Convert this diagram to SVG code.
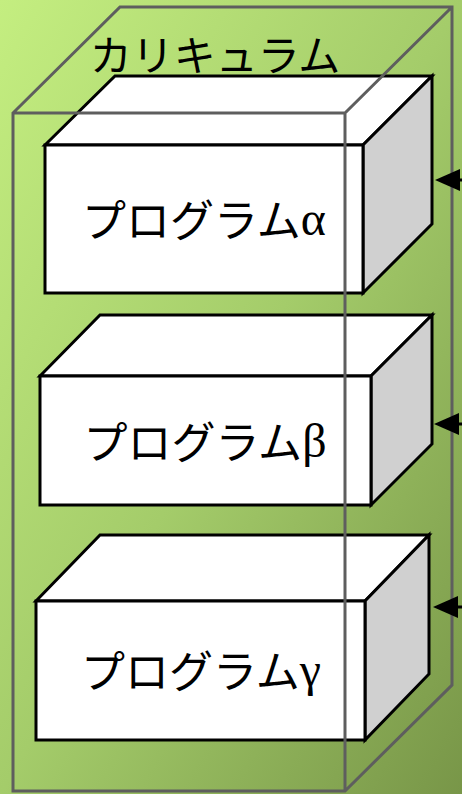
<svg xmlns="http://www.w3.org/2000/svg" width="462" height="794" viewBox="0 0 462 794">
<defs>
<linearGradient id="bg" x1="0" y1="0" x2="1" y2="1">
<stop offset="0" stop-color="#c4ee80"/>
<stop offset="0.5" stop-color="#a4cc6a"/>
<stop offset="1" stop-color="#789648"/>
</linearGradient>
<style>
.face{fill:#fff;stroke:#000;stroke-width:3;stroke-linejoin:miter}
.side{fill:#d0d0d0;stroke:#000;stroke-width:3;stroke-linejoin:miter}
.lbl{font-family:"Noto Sans CJK JP","Noto Sans",sans-serif;font-size:44px;font-weight:400;fill:#000}
.ttl{font-family:"Noto Sans CJK JP","Noto Sans",sans-serif;font-size:42px;font-weight:400;fill:#000}
.gk{font-family:"Liberation Serif",serif;font-size:48px;font-weight:400}
.wire{fill:none;stroke:#5e5e5e;stroke-width:3;stroke-linejoin:miter}
.arr{stroke:#000;stroke-width:3}
.ahd{fill:#000}
</style>
</defs>
<rect x="0" y="0" width="462" height="794" fill="url(#bg)"/>

<g id="program-alpha">
<polygon class="face" points="45,145 115,76 432,76 363,145"/>
<polygon class="side" points="363,145 432,76 432,224 363,293"/>
<rect class="face" x="45" y="145" width="318" height="148"/>
<text class="lbl" x="204" y="218" text-anchor="middle" dominant-baseline="central">プログラム<tspan class="gk">α</tspan></text>
</g>

<g id="program-beta">
<polygon class="face" points="40,376 100,315 432,315 371,376"/>
<polygon class="side" points="371,376 432,315 432,444 371,505"/>
<rect class="face" x="40" y="376" width="331" height="129"/>
<text class="lbl" x="205" y="440" text-anchor="middle" dominant-baseline="central">プログラム<tspan class="gk">β</tspan></text>
</g>

<g id="program-gamma">
<polygon class="face" points="36,601 100,535 429,535 365,601"/>
<polygon class="side" points="365,601 429,535 429,674 365,740"/>
<rect class="face" x="36" y="601" width="329" height="139"/>
<text class="lbl" x="201" y="669" text-anchor="middle" dominant-baseline="central">プログラム<tspan class="gk">γ</tspan></text>
</g>

<g id="curriculum">
<path class="wire" d="M13,113 L120,7 L452,7 L452,685 L345,791 L13,791 Z M13,113 L345,113 L345,791 M345,113 L452,7"/>
<text class="ttl" x="215" y="52" text-anchor="middle" dominant-baseline="central">カリキュラム</text>
</g>

<g id="connectors">
<line class="arr" x1="470" y1="180" x2="455" y2="180"/>
<polygon class="ahd" points="435,180 460,169 460,191"/>
<line class="arr" x1="470" y1="424" x2="455" y2="424"/>
<polygon class="ahd" points="434,424 459,413 459,435"/>
<line class="arr" x1="470" y1="607" x2="455" y2="607"/>
<polygon class="ahd" points="433,607 458,596 458,618"/>
</g>
</svg>
